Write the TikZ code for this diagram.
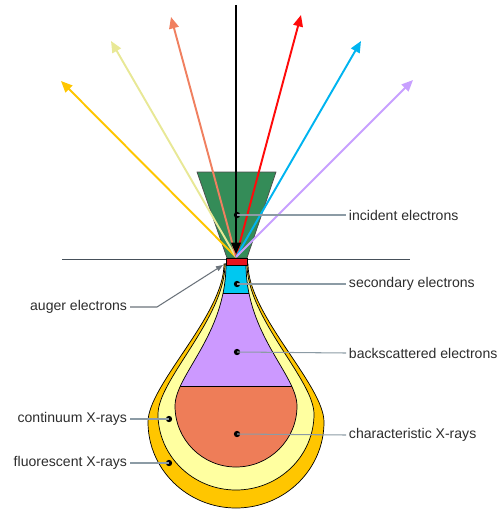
\documentclass[tikz,border=0pt]{standalone}
\usepackage{fontspec}
\setmainfont{Liberation Sans}
\usetikzlibrary{arrows.meta}

\definecolor{beamgreen}{RGB}{52,140,88}
\definecolor{augerred}{RGB}{232,20,30}
\definecolor{secblue}{RGB}{0,200,240}
\definecolor{bslilac}{RGB}{204,153,255}
\definecolor{charorange}{RGB}{238,125,88}
\definecolor{contyellow}{RGB}{255,255,160}
\definecolor{fluorgold}{RGB}{255,198,0}
\definecolor{rayolive}{RGB}{232,232,150}
\definecolor{raysalmon}{RGB}{240,128,96}
\definecolor{rayred}{RGB}{255,10,10}
\definecolor{raycyan}{RGB}{0,180,240}
\definecolor{raylilac}{RGB}{200,160,255}
\definecolor{leadergray}{RGB}{140,155,165}
\definecolor{surfacegray}{RGB}{70,80,90}
\definecolor{labeltext}{RGB}{45,45,45}

\tikzset{
  ray/.style={line width=1.1pt, -{Triangle[length=6.5pt,width=5.5pt]}},
  region/.style={draw=black, line width=0.4pt},
  dot/.style={circle, fill=black, inner sep=0pt, minimum size=3.6pt},
  leader/.style={draw=leadergray, line width=0.6pt},
  lbl/.style={font=\fontsize{8}{10}\selectfont, text=labeltext, inner sep=1.5pt},
}

\begin{document}
\begin{tikzpicture}[x=0.02cm, y=-0.02cm]
\useasboundingbox (0,0) rectangle (501,510);

% beam cone above the surface
\filldraw[fill=beamgreen, draw=black!70, line width=0.4pt]
  (197,172) -- (276,172) -- (247,258) -- (227,258) -- cycle;

% emitted signals leaving the impact point
\coordinate (apex) at (236,257);
\coordinate (tipFluor) at (61,81);
\coordinate (tipCont) at (111,41);
\coordinate (tipChar) at (171,17);
\coordinate (tipAuger) at (301,15);
\coordinate (tipSec) at (361,41);
\coordinate (tipBack) at (413,80);
\coordinate (beamTop) at (236,5);
\coordinate (beamEnd) at (236,254);

\draw[ray, fluorgold] (apex) -- (tipFluor);
\draw[ray, rayolive] (apex) -- (tipCont);
\draw[ray, raysalmon] (apex) -- (tipChar);
\draw[ray, rayred] (apex) -- (tipAuger);
\draw[ray, raycyan] (apex) -- (tipSec);
\draw[ray, raylilac] (apex) -- (tipBack);
\draw[ray, black] (beamTop) -- (beamEnd);

% specimen surface
\coordinate (surfL) at (62,259.5);
\coordinate (surfR) at (410,259.5);
\draw[surfacegray, line width=1pt] (surfL) -- (surfR);

% interaction volume: fluorescent X-ray shell
\path[region, fill=fluorgold]
  (224,264) .. controls (224,315) and (148,385) .. (148,422)
  arc[start angle=180, end angle=0, x radius=88, y radius=86]
  .. controls (324,385) and (248,315) .. (248,264) -- cycle;

% continuum X-ray shell
\path[region, fill=contyellow]
  (225,264) .. controls (225,318) and (158,380) .. (158,414)
  arc[start angle=180, end angle=0, x radius=78, y radius=76]
  .. controls (314,380) and (247,318) .. (247,264) -- cycle;

% inner pear: secondary, backscattered and characteristic zones
\begin{scope}
  \clip (226,264) .. controls (226,335) and (175,375) .. (175,406)
    arc[start angle=180, end angle=0, radius=61]
    .. controls (297,375) and (246,335) .. (246,264) -- cycle;
  \fill[bslilac] (140,250) rectangle (340,480);
  \fill[secblue] (140,250) rectangle (340,293);
  \fill[charorange] (140,386) rectangle (340,480);
  \draw[line width=0.4pt] (140,293) -- (340,293);
  \draw[line width=0.4pt] (140,386) -- (340,386);
\end{scope}
\path[region]
  (226,264) .. controls (226,335) and (175,375) .. (175,406)
  arc[start angle=180, end angle=0, radius=61]
  .. controls (297,375) and (246,335) .. (246,264);

% Auger escape depth
\filldraw[fill=augerred, draw=black, line width=0.4pt] (226,258) rectangle (247,265);

% marker dots
\node[dot] (dInc) at (237,215) {};
\node[dot] (dSec) at (237,284) {};
\node[dot] (dBack) at (237,352) {};
\node[dot] (dChar) at (237,434) {};
\node[dot] (dCont) at (169,419) {};
\node[dot] (dFluor) at (169,463) {};

% labels on the right
\node[lbl, anchor=west] (tInc) at (346,215) {incident electrons};
\node[lbl, anchor=west] (tSec) at (346,284) {secondary electrons};
\node[lbl, anchor=west] (tBack) at (346,353) {backscattered electrons};
\node[lbl, anchor=west] (tChar) at (346,435) {characteristic X-rays};

% labels on the left
\node[lbl, anchor=east] (tAug) at (130,307) {auger electrons};
\node[lbl, anchor=east] (tCont) at (130,419) {continuum X-rays};
\node[lbl, anchor=east] (tFluor) at (130,463) {fluorescent X-rays};

% leader lines
\draw[leader] (dInc.center) -- (tInc.west);
\draw[leader] (dSec.center) -- (tSec.west);
\draw[leader] (dBack.center) -- (tBack.west);
\draw[leader] (dChar.center) -- (tChar.west);
\draw[leader] (tCont.east) -- (dCont.center);
\draw[leader] (tFluor.east) -- (dFluor.center);

\coordinate (augKnee) at (157,307);
\coordinate (augTip) at (223,265);
\draw[leader, draw=surfacegray!80, -{Triangle[length=4pt,width=3pt]}]
  (tAug.east) -- (augKnee) -- (augTip);
\end{tikzpicture}
\end{document}
